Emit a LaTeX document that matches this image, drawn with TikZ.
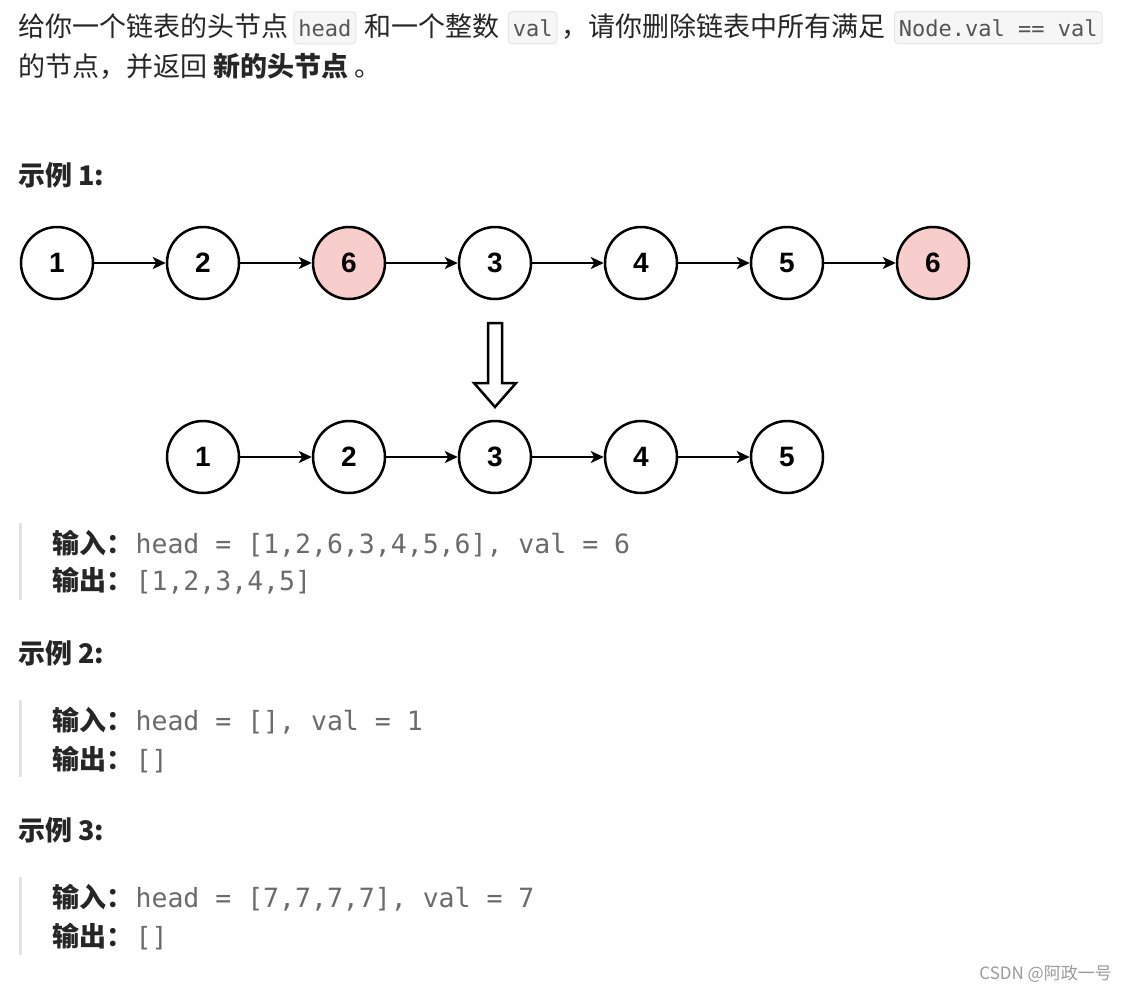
\documentclass[tikz,border=0pt]{standalone}
\usepackage{fontspec}
\setmainfont{Noto Sans CJK SC}
\setmonofont{DejaVu Sans Mono}
\newfontfamily\digitfont{Liberation Sans}
\usetikzlibrary{positioning,arrows.meta}
\definecolor{inktext}{HTML}{262626}
\definecolor{inkcode}{HTML}{6B6B6B}
\definecolor{inlinecode}{HTML}{555555}
\definecolor{codebg}{HTML}{F6F6F6}
\definecolor{codeframe}{HTML}{E5E5E5}
\definecolor{quotebar}{HTML}{E3E3E3}
\definecolor{removed}{HTML}{F8CECC}
\definecolor{wmgray}{HTML}{9A9A9A}
\newcommand{\bodysize}{\fontsize{27}{32}\selectfont}
\newcommand{\codesize}{\fontsize{26.5}{32}\selectfont}

\begin{document}
\begin{tikzpicture}[x=1pt, y=-1pt,
    txt/.style={inner sep=0pt, anchor=base west, text=inktext, font=\bodysize},
    lbl/.style={txt, font=\bodysize\bfseries},
    inl/.style={rounded corners=4pt, fill=codebg, draw=codeframe, line width=1pt, text=inlinecode,
      font=\ttfamily\fontsize{22}{26}\selectfont, inner xsep=4.5pt, minimum height=32pt},
    code/.style={inner sep=0pt, anchor=base west, text=inkcode, font=\ttfamily\codesize},
    lnode/.style={circle, draw=black, line width=2.5pt, fill=white, minimum size=72pt, inner sep=0pt,
      font=\digitfont\bfseries\fontsize{28}{28}\selectfont},
    gone/.style={lnode, fill=removed},
    link/.style={-{Stealth[length=13pt,width=12pt,inset=3.5pt]}, line width=2.2pt},
    bar/.style={quotebar, line width=3pt},
    node distance=71.5pt]
\fill[white] (0,0) rectangle (1127,991);
\useasboundingbox (0,0) rectangle (1127,991);

% problem statement
\node[txt] (l1a) at (18,36) {给你一个链表的头节点};
\node[inl, base right=5pt of l1a] (l1b) {head};
\node[txt, base right=8pt of l1b] (l1c) {和一个整数};
\node[inl, base right=8pt of l1c] (l1d) {val};
\node[txt, base right=4pt of l1d] (l1e) {，请你删除链表中所有满足};
\node[inl, base right=8pt of l1e] (l1f) {Node.val == val};
\node[txt] (l2) at (18,76) {的节点，并返回 \textbf{新的头节点} 。};

% example 1
\node[lbl] (ex1) at (18,185) {示例 1:};
\node[lnode] (a1) at (57,263) {1};
\node[lnode, right=of a1] (a2) {2};
\node[gone, right=of a2] (a3) {6};
\node[lnode, right=of a3] (a4) {3};
\node[lnode, right=of a4] (a5) {4};
\node[lnode, right=of a5] (a6) {5};
\node[gone, right=of a6] (a7) {6};
\node[lnode, below=119.5pt of a2] (b1) {1};
\node[lnode, right=of b1] (b2) {2};
\node[lnode, right=of b2] (b3) {3};
\node[lnode, right=of b3] (b4) {4};
\node[lnode, right=of b4] (b5) {5};
\path[link]
  (a1) edge (a2) (a2) edge (a3) (a3) edge (a4)
  (a4) edge (a5) (a5) edge (a6) (a6) edge (a7)
  (b1) edge (b2) (b2) edge (b3) (b3) edge (b4) (b4) edge (b5);
\draw[line width=2.5pt, fill=white]
  (488,323) -- (502,323) -- (502,383) -- (516,383) -- (495,407) -- (474,383) -- (488,383) -- cycle;

\draw[bar] (20.5,523) -- (20.5,600);
\node[lbl] (in1) at (52,553) {输入：};
\node[code, base right=2pt of in1] (in1v) {head = [1,2,6,3,4,5,6], val = 6};
\node[lbl] (out1) at (52,590) {输出：};
\node[code, base right=2pt of out1] (out1v) {[1,2,3,4,5]};

% example 2
\node[lbl] (ex2) at (18,663) {示例 2:};
\draw[bar] (20.5,700) -- (20.5,777);
\node[lbl] (in2) at (52,730) {输入：};
\node[code, base right=2pt of in2] (in2v) {head = [], val = 1};
\node[lbl] (out2) at (52,769) {输出：};
\node[code, base right=2pt of out2] (out2v) {[]};

% example 3
\node[lbl] (ex3) at (18,840) {示例 3:};
\draw[bar] (20.5,877) -- (20.5,955);
\node[lbl] (in3) at (52,907) {输入：};
\node[code, base right=2pt of in3] (in3v) {head = [7,7,7,7], val = 7};
\node[lbl] (out3) at (52,946) {输出：};
\node[code, base right=2pt of out3] (out3v) {[]};

\node[inner sep=0pt, anchor=base east, text=wmgray, font=\fontsize{17}{20}\selectfont] (wm) at (1112,979) {CSDN @阿政一号};
\end{tikzpicture}
\end{document}
